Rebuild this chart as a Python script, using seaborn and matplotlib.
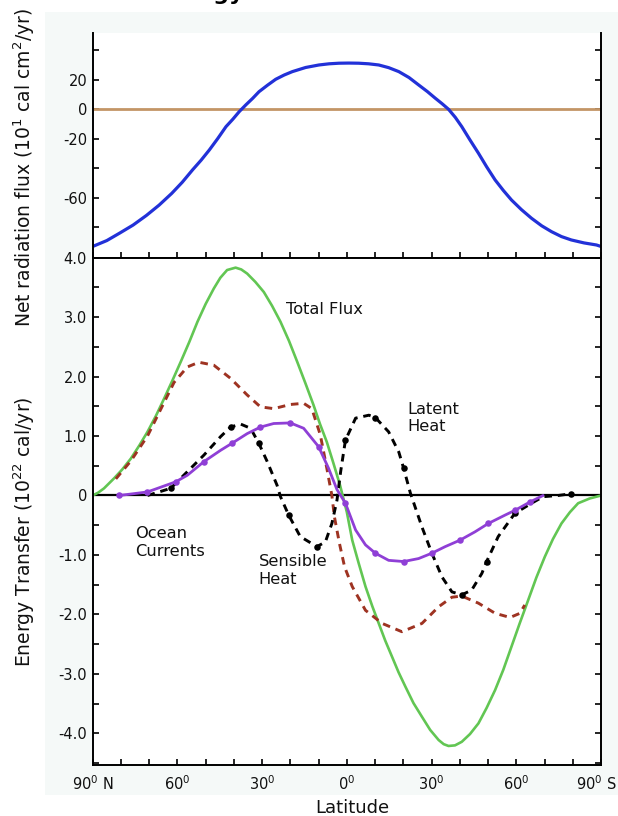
import numpy as np
import pandas as pd
import seaborn as sns
import matplotlib
matplotlib.use("Agg")
import matplotlib.pyplot as plt
from matplotlib.patches import Rectangle

# --- data (latitude: negative = N, positive = S) ---
net_lat = [-90, -85, -80.5, -75.7, -71, -66.5, -62, -58.3, -54.6, -51.6, -48.7, -45.7, -42.8, -40.4,
           -38.1, -35.8, -33.4, -31.1, -28.1, -25.2, -22.2, -19.3, -14.6, -9.9, -6.3, -2.8, 0.7,
           4.2, 7.7, 11.3, 14.8, 18.4, 22, 25.4, 28.5, 31.3, 33.7, 36, 38.4, 40.7, 43.5, 46.6,
           49.5, 52.5, 55.4, 58.3, 61.8, 65.4, 69, 72.5, 76, 79.5, 84, 88.4, 90]
net_val = [-93, -89, -84, -78.5, -72, -65, -57, -49.5, -41, -34.5, -27.6, -19.8, -11.8, -6.8,
           -1.6, 2.9, 7.3, 11.9, 16.3, 20.3, 23.2, 25.5, 28.3, 30, 30.8, 31.2, 31.3,
           31.2, 30.8, 30, 28.2, 25.5, 21.5, 16.5, 12, 7.5, 3.8, 0, -5.5, -11.8, -20.5, -29.8,
           -39, -47.9, -55, -61.5, -68, -73.9, -79, -83, -86.3, -88.6, -90.6, -92, -93]

total_lat = [-90, -88, -86, -82.4, -79.5, -76.5, -73.5, -70.6, -67.6, -64.7, -61.8, -58.8, -55.8,
             -52.9, -50, -47.1, -44.8, -42.4, -39.4, -37.4, -35.3, -32.4, -29.4, -26.5, -23.5,
             -20.5, -17.6, -14.7, -11.8, -9.5, -7.1, -4.8, -2.4, 0, 1.9, 4.2, 6.6, 9, 11.3, 13.6,
             16, 18.3, 20.7, 23.6, 26.6, 29.5, 32.5, 34.3, 36, 38.3, 40.7, 43.6, 46.6, 49.5, 52.5,
             55.4, 58.3, 61.2, 64.2, 67.1, 70.1, 73, 76, 79, 81.9, 86, 90]
total_val = [0, 0.05, 0.12, 0.29, 0.44, 0.62, 0.84, 1.07, 1.34, 1.63, 1.93, 2.25, 2.58,
             2.92, 3.22, 3.48, 3.66, 3.79, 3.83, 3.80, 3.73, 3.59, 3.42, 3.19, 2.92,
             2.6, 2.25, 1.89, 1.52, 1.2, 0.90, 0.55, 0.17, -0.28, -0.75, -1.14, -1.53, -1.86, -2.15, -2.44,
             -2.71, -2.97, -3.21, -3.49, -3.72, -3.94, -4.11, -4.18, -4.21, -4.2, -4.14, -4.01, -3.83, -3.57, -3.27,
             -2.93, -2.54, -2.15, -1.76, -1.38, -1.03, -0.73, -0.47, -0.28, -0.13, -0.05, 0]

red_lat = [-81.8, -76.5, -70.6, -65.9, -61.2, -56.5, -52.4, -47.1, -41.2, -35.3, -30.6, -25.9, -20,
           -15.3, -12.4, -9.4, -7.1, -5.3, -4.4, -2.6, -0.8, 1.9, 6.6, 12.5, 19.5, 26.6, 32.5,
           37.2, 40.7, 46.6, 52.5, 57.8, 61.3, 63]
red_val = [0.28, 0.58, 1.0, 1.45, 1.9, 2.16, 2.24, 2.19, 1.97, 1.69, 1.49, 1.46, 1.53,
           1.55, 1.46, 1.02, 0.46, 0.0, -0.36, -0.81, -1.2, -1.53, -1.93, -2.15, -2.29, -2.15, -1.87,
           -1.71, -1.69, -1.81, -1.98, -2.05, -1.98, -1.84]

latent_lat = [-70.6, -62.4, -56.5, -50.6, -44.7, -41.2, -37.6, -34.1, -31.2, -28.2, -24.7, -23.5,
              -20.6, -16.5, -10.6, -7.6, -5.3, -3.5, -2.2, -0.5, 3.1, 7.8, 10.1, 14.8, 18.4, 20.1,
              22.5, 26.6, 30.1, 33.7, 37.2, 40.7, 44.2, 47.8, 49.5, 53.6, 59.5, 65.4, 69.5, 74.8, 79.5]
latent_val = [0.0, 0.12, 0.40, 0.68, 0.99, 1.15, 1.20, 1.13, 0.88, 0.57, 0.17, -0.02,
              -0.33, -0.69, -0.86, -0.78, -0.47, -0.08, 0.40, 0.93, 1.30, 1.35, 1.31, 1.07, 0.73, 0.46,
              0.04, -0.53, -0.97, -1.37, -1.62, -1.67, -1.59, -1.31, -1.11, -0.69, -0.30, -0.13, -0.02, 0.0, 0.03]
latent_dots = [1, 5, 8, 12, 14, 19, 22, 25, 31, 34, 36, 40]

ocean_lat = [-80.6, -70.6, -60.6, -56.5, -50.6, -44.7, -40.6, -35.3, -30.6, -25.9, -20, -15.3, -10,
             -6.5, -3.5, -0.5, 3.1, 6.6, 10.1, 14.8, 20.1, 25.4, 30.1, 34.8, 40.1, 45.4, 50.1, 56,
             59.5, 64.8, 69.5]
ocean_val = [0.0, 0.06, 0.23, 0.34, 0.57, 0.76, 0.88, 1.04, 1.15, 1.21, 1.22, 1.13, 0.82,
             0.46, 0.10, -0.13, -0.58, -0.83, -0.97, -1.09, -1.11, -1.06, -0.97, -0.86, -0.75, -0.61, -0.47, -0.33,
             -0.25, -0.11, 0.0]
ocean_dots = [0, 1, 2, 4, 6, 8, 10, 12, 15, 18, 20, 22, 24, 26, 28, 29]

lat_ticks = [-90, -60, -30, 0, 30, 60, 90]
lat_labels = ["90$^0$ N", "60$^0$", "30$^0$", "0$^0$", "30$^0$", "60$^0$", "90$^0$ S"]
top_ticks = [40, 20, 0, -20, -40, -60, -80]
top_labels = ["", "20", "0", "-20", "", "-60", ""]
bot_ticks = [4, 3, 2, 1, 0, -1, -2, -3, -4]
bot_labels = ["4.0", "3.0", "2.0", "1.0", "0", "-1.0", "-2.0", "-3.0", "-4.0"]

# --- style ---
sns.set_theme(style="white")
plt.rcParams['font.family'] = ['DejaVu Sans']
plt.rcParams['mathtext.fontset'] = 'dejavusans'

fig = plt.figure(figsize=(6.18, 8.16), dpi=100)
fig.patches.append(Rectangle((0.073, 0.026), 0.927, 0.959, transform=fig.transFigure,
                             facecolor="#f5f9f8", edgecolor="none", zorder=-10))

ax_top = fig.add_axes([0.15, 0.6844, 0.8225, 0.2752])
ax_bot = fig.add_axes([0.15, 0.0625, 0.8225, 0.6219])

dash = (0, (2.6, 2.0))

# top panel
sns.lineplot(x=[-90, 90], y=[0, 0], ax=ax_top, color="#c39566", lw=2.0, estimator=None, sort=False)
sns.lineplot(x=net_lat, y=net_val, ax=ax_top, color="#2231d8", lw=2.3, estimator=None, sort=False)

# bottom panel
ax_bot.axhline(0, color="black", lw=1.6, zorder=1)
sns.lineplot(x=total_lat, y=total_val, ax=ax_bot, color="#62c653", lw=1.9, estimator=None, sort=False)
sns.lineplot(x=red_lat, y=red_val, ax=ax_bot, color="#9e3322", lw=2.1, linestyle=dash,
             estimator=None, sort=False)
sns.lineplot(x=latent_lat, y=latent_val, ax=ax_bot, color="black", lw=2.1, linestyle=dash,
             estimator=None, sort=False)
sns.scatterplot(x=[latent_lat[i] for i in latent_dots], y=[latent_val[i] for i in latent_dots],
                ax=ax_bot, color="black", s=22, linewidth=0, zorder=4)
sns.lineplot(x=ocean_lat, y=ocean_val, ax=ax_bot, color="#8f3fd6", lw=2.0, estimator=None, sort=False)
sns.scatterplot(x=[ocean_lat[i] for i in ocean_dots], y=[ocean_val[i] for i in ocean_dots],
                ax=ax_bot, color="#8f3fd6", s=22, linewidth=0, zorder=4)

# axes formatting
for ax in (ax_top, ax_bot):
    ax.set_xlim(-90, 90)
    ax.set_facecolor("white")
    ax.set_xlabel("")
    ax.set_ylabel("")
    for s in ax.spines.values():
        s.set_color("black")
        s.set_linewidth(1.4)
    ax.tick_params(which="both", direction="in", length=4, width=1.2, color="black",
                   left=True, right=True, bottom=True, top=False, labelsize=10.5,
                   labelcolor="#111111", pad=4)
    ax.set_xticks(np.arange(-90, 91, 10), minor=True)

ax_top.set_ylim(-100.5, 51.7)
ax_top.spines["top"].set_visible(False)
ax_top.set_yticks(top_ticks)
ax_top.set_yticklabels(top_labels)
ax_top.set_xticks(lat_ticks)
ax_top.set_xticklabels([])

ax_bot.set_ylim(-4.53, 4.0)
ax_bot.set_yticks(bot_ticks)
ax_bot.set_yticklabels(bot_labels)
ax_bot.set_yticks(np.arange(-4.5, 4.01, 0.5), minor=True)
ax_bot.set_xticks(lat_ticks)
# last label sits against the right edge, so it is placed by hand below
ax_bot.set_xticklabels(lat_labels[:-1] + [""])
ax_bot.tick_params(axis="x", pad=7)
fig.text(617 / 618, 1 - 784 / 816, lat_labels[-1], ha="right", va="center",
         fontsize=10.5, color="#111111")

# curve labels
lab_kw = dict(fontsize=11.7, va="center", ha="left", linespacing=1.2, color="#111111")
ax_bot.text(-21.4, 3.12, "Total Flux", **lab_kw)
ax_bot.text(21.4, 1.30, "Latent\nHeat", **lab_kw)
ax_bot.text(-75, -0.79, "Ocean\nCurrents", **lab_kw)
ax_bot.text(-31.3, -1.26, "Sensible\nHeat", **lab_kw)

# axis titles
fig.text(0.5702, 1 - 808 / 816, "Latitude", ha="center", va="center", fontsize=13, color="#111111")
fig.text(0.040, 1 - 168 / 816, "Net radiation flux (10$^1$ cal cm$^2$/yr)", rotation=90,
         ha="center", va="center", fontsize=13.5, color="#111111")
fig.text(0.040, 1 - 532 / 816, "Energy Transfer (10$^{22}$ cal/yr)", rotation=90,
         ha="center", va="center", fontsize=13.5, color="#111111")

# title, mostly cut off by the top edge as in the source picture
fig.text(244 / 618, 1.0, "Energy", ha="right", va="baseline", fontsize=16,
         fontweight="bold", color="black")

fig.savefig("out.png", dpi=100)
